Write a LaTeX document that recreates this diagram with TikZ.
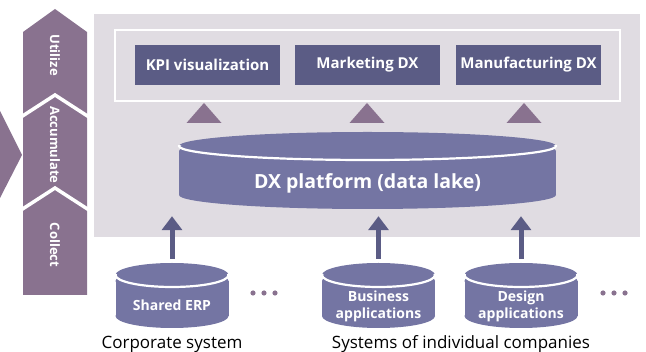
\documentclass[tikz,border=0pt]{standalone}
\usepackage{fontspec}
\setmainfont{Open Sans}
\usetikzlibrary{arrows.meta,calc}

\definecolor{panelgray}{HTML}{E0DCE2}
\definecolor{boxblue}{HTML}{5B5C85}
\definecolor{drumblue}{HTML}{7475A3}
\definecolor{plum}{HTML}{89728F}

\newcommand\fsz[2]{\fontsize{#1}{#2}\selectfont}

% cylinder: #1 centre x, #2 face centre y, #3 x radius, #4 y radius, #5 body top, #6 body bottom
\newcommand\drawdrum[6]{%
  \fill[drumblue] ({#1-#3},#5) rectangle ({#1+#3},#6);
  \fill[drumblue] (#1,#6) ellipse [x radius=#3, y radius=#4];
  \fill[drumblue] (#1,#5) ellipse [x radius=#3, y radius=#4];
  \fill[drumblue] (#1,#2) ellipse [x radius=#3, y radius=#4];
  \begin{scope}
    \clip ({#1-#3-4},#2) rectangle ({#1+#3+4},{#2+#4+4});
    \draw[white, line width=2.2pt] (#1,#2) ellipse [x radius=#3, y radius=#4];
  \end{scope}
}

\tikzset{
  stagelabel/.style={text=white, font=\bfseries\fsz{13}{15}, rotate=-90, inner sep=0pt},
  appbox/.style={fill=boxblue, text=white, font=\bfseries\fsz{15}{17},
    minimum width=145pt, minimum height=40pt, inner sep=0pt},
  drumarea/.style={inner sep=0pt, draw=none},
  drumtext/.style={text=white, font=\bfseries\fsz{14}{17}, align=center, inner sep=0pt},
  uparrow/.style={draw=boxblue, line width=5pt, -{Triangle[width=20pt,length=14pt]}},
  caption/.style={text=black, font=\fsz{17}{20}, inner sep=0pt, anchor=base},
}

\begin{document}
\begin{tikzpicture}[x=1pt, y=-1pt]
\useasboundingbox (0,0) rectangle (646,352);

% incoming arrow on the left edge
\fill[plum] (0,111) -- (22,155) -- (0,198) -- cycle;

% stage column: Collect / Accumulate / Utilize
\fill[plum] (23,295) -- (23,32) -- (55,9) -- (87,32) -- (87,295) -- cycle;
\draw[white, line width=3.5pt, line join=miter] (21,117) -- (55,95) -- (89,117);
\draw[white, line width=3.5pt, line join=miter] (21,210) -- (55,188) -- (89,210);
\node[stagelabel] (utilize) at (55,55) {Utilize};
\node[stagelabel] (accumulate) at (55,145) {Accumulate};
\node[stagelabel] (collect) at (55,245) {Collect};

% platform panel
\fill[panelgray] (94,14) rectangle (640,237);
\draw[white, line width=1.2pt] (115,30) rectangle (620,101);

% applications
\node[appbox] (kpi) at (207.5,65) {KPI visualization};
\node[appbox] (mkt) at (367.5,65) {Marketing DX};
\node[appbox] (mfg) at (528.5,65) {Manufacturing DX};

% upward markers below the application frame
\fill[plum] (186.5,123) -- (204,103) -- (221.5,123) -- cycle;
\fill[plum] (349.5,123) -- (367,103) -- (384.5,123) -- cycle;
\fill[plum] (506.5,123) -- (524,103) -- (541.5,123) -- cycle;

% data lake
\drawdrum{367.5}{146}{188.5}{14}{151}{195}
\node[drumarea, minimum width=377pt, minimum height=77pt] (lake) at (367.5,170.5) {};
\node[text=white, font=\bfseries\fsz{19.5}{22}, inner sep=0pt, anchor=base] (laketext) at (367.5,189) {DX platform (data lake)};

% source systems
\drawdrum{172}{275}{56.5}{12}{281}{316}
\drawdrum{378.5}{275}{56.5}{12}{281}{316}
\drawdrum{521}{275}{56.5}{12}{281}{316}
\node[drumarea, minimum width=113pt, minimum height=65pt] (erp) at (172,295.5) {};
\node[drumarea, minimum width=113pt, minimum height=65pt] (biz) at (378.5,295.5) {};
\node[drumarea, minimum width=113pt, minimum height=65pt] (dsn) at (521,295.5) {};
\node[drumtext, anchor=base] (erptext) at (172,311) {Shared ERP};
\node[drumtext] (biztext) at (378.5,306) {Business\\applications};
\node[drumtext] (dsntext) at (521,306) {Design\\applications};

% data flows into the lake
\draw[uparrow, shorten <=4pt, shorten >=7pt] (erp.north) -- (erp.north |- lake.south);
\draw[uparrow, shorten <=4pt, shorten >=7pt] (biz.north) -- (biz.north |- lake.south);
\draw[uparrow, shorten <=4pt, shorten >=7pt] (dsn.north) -- (dsn.north |- lake.south);

% ellipses
\foreach \x in {253,264,275,603,614,625}
  \fill[plum] (\x,293) circle [radius=2.6];

% group captions
\node[caption] (corp) at (172,349) {Corporate system};
\node[caption] (indiv) at (461,349) {Systems of individual companies};
\end{tikzpicture}
\end{document}
